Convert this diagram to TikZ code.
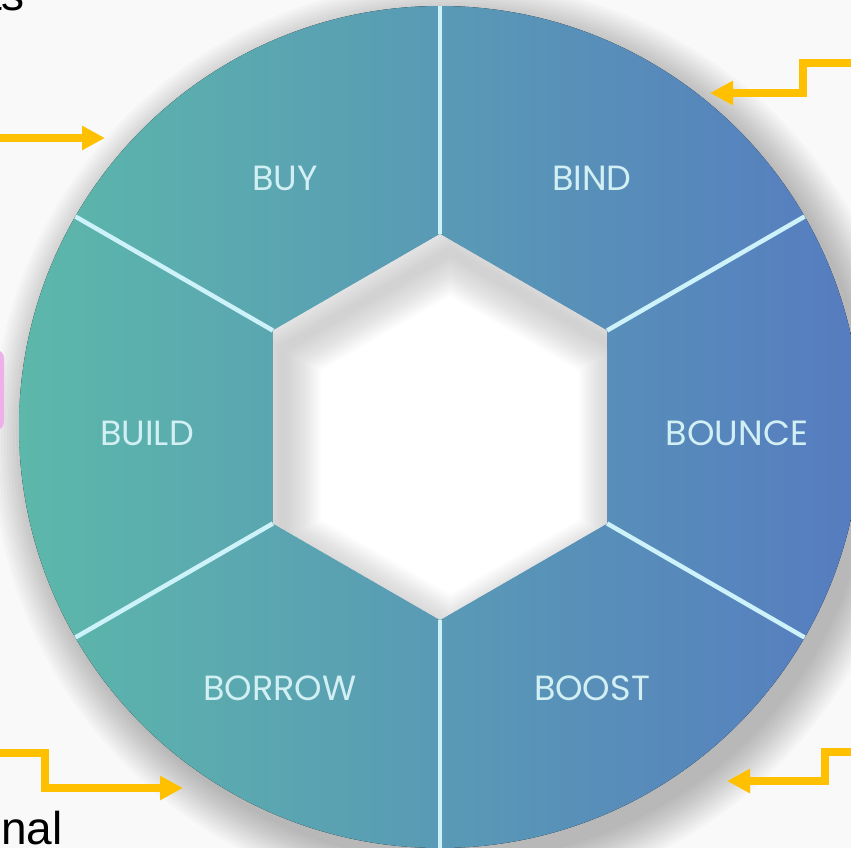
\documentclass[tikz,border=0pt]{standalone}
\usepackage{fontspec}
\setmainfont{Liberation Sans}
\newfontfamily\ringfont{Poppins}
\usetikzlibrary{calc,arrows.meta}
\definecolor{ringL}{RGB}{92,184,170}
\definecolor{ringR}{RGB}{86,124,192}
\definecolor{dividerc}{RGB}{205,242,250}
\definecolor{labelc}{RGB}{210,240,244}
\definecolor{gold}{RGB}{255,192,0}
\definecolor{paper}{RGB}{249,249,249}
\definecolor{pinkbar}{RGB}{238,176,232}
\newcommand{\hexhole}{(440,234) -- (607.1,330.5) -- (607.1,523.5) -- (440,620) -- (272.9,523.5) -- (272.9,330.5) -- cycle}
\tikzset{
ring/.style={left color=ringL,right color=ringR},
divider/.style={draw=dividerc,line width=4.5pt},
seg/.style={font=\ringfont\fontsize{35}{35}\selectfont,text=labelc,inner sep=0pt},
bigword/.style={font=\fontsize{46}{46}\selectfont,text=black,inner sep=0pt},
goldarrow/.style={draw=gold,line width=7.5pt,-{Triangle[length=23pt,width=23pt]}}
}
\begin{document}
\begin{tikzpicture}[x=1pt,y=-1pt]
\useasboundingbox[fill=paper] (0,0) rectangle (851,848);
\coordinate (c) at (440,427);
% soft shadow under the ring
\foreach \r in {460,457,...,421}
  \fill[black,opacity=0.018] ($(c)+(12,14)$) circle[radius=\r pt];
\fill[ring] (c) circle[radius=421pt];
% hole in the middle, with its inner shadow
\fill[white] \hexhole;
\begin{scope}
\clip \hexhole;
\foreach \w in {76,72,...,6}
  \draw[black!60,opacity=0.017,line width=\w pt,shift={(10,18)}] \hexhole;
\end{scope}
\foreach \a in {-90,-30,30,90,150,210}
  \draw[divider] ($(c)+(\a:193)$) -- ($(c)+(\a:421)$);
% segment names
\node[seg] (buy) at (285,178) {BUY};
\node[seg] (bind) at (592,178) {BIND};
\node[seg] (build) at (147,433) {BUILD};
\node[seg] (bounce) at (737,433) {BOUNCE};
\node[seg] (borrow) at (280,688) {BORROW};
\node[seg] (boost) at (592,688) {BOOST};
% pointers from the side panels
\coordinate (p1) at (-4,138);
\coordinate (q1) at (105,138);
\coordinate (p2) at (855,63);
\coordinate (q2) at (710,93);
\coordinate (p3) at (-4,753);
\coordinate (q3) at (183,788);
\coordinate (p4) at (855,752);
\coordinate (q4) at (727,781);
\draw[goldarrow] (p1) -- (q1);
\draw[goldarrow] (p2) -- ++(-52,0) |- (q2);
\draw[goldarrow] (p3) -- ++(49,0) |- (q3);
\draw[goldarrow] (p4) -- ++(-30,0) |- (q4);
% edges of the neighbouring panels
\fill[pinkbar,rounded corners=8pt] (-40,350) rectangle (4,430);
\node[bigword,anchor=base east] (tsword) at (25,11) {ts};
\node[bigword,anchor=base east] (onalword) at (63,844) {onal};
\end{tikzpicture}
\end{document}
